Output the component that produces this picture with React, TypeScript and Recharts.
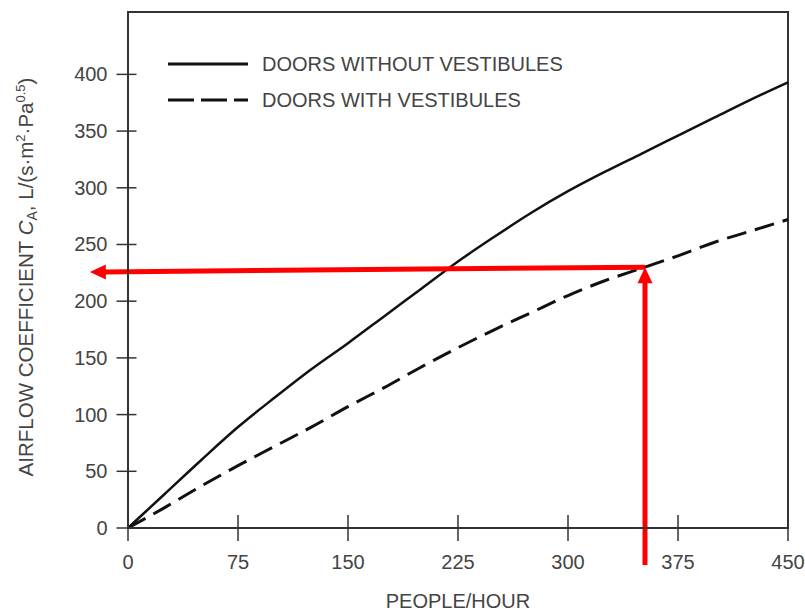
import React from 'react';
import { LineChart, Line, XAxis, YAxis, ReferenceLine, ReferenceArea, Legend } from 'recharts';

// people per hour sampled along both curves
const people = [0, 25, 50, 75, 100, 125, 150, 175, 200, 225, 250, 275, 300, 325, 350, 375, 400, 425, 450];
const withoutVestibules = [0, 30, 60, 89, 115, 140, 163, 187, 211, 235, 257, 278, 297, 314, 330, 346, 362, 378, 393];
const withVestibules = [0, 18, 37, 55, 72, 89, 107, 124, 142, 159, 175, 190, 205, 218, 229, 240, 252, 262, 272];

const xTicks = [0, 75, 150, 225, 300, 375, 450];
const yTicks = [0, 50, 100, 150, 200, 250, 300, 350, 400];
const seriesNames = ['DOORS WITHOUT VESTIBULES', 'DOORS WITH VESTIBULES'];

// red reading arrows (data units)
const readPeople = 352.5;
const readCoef = 230;
const arrowLeftPeople = -26;
const arrowLeftCoef = 225.7;
const arrowBottomCoef = -32.6;

const data = people.map((p, i) => ({
  people: p,
  without: withoutVestibules[i],
  with: withVestibules[i],
}));

const FONT = '"Liberation Sans", Arial, sans-serif';
const TEXT = '#444';
const AXIS = '#333';
const RED = '#ff0000';

const XTick = (props: any) => {
  const { x, y, payload } = props;
  return (
    <g>
      <line x1={x} x2={x} y1={y - 13} y2={y + 13} stroke={AXIS} strokeWidth={1.5} />
      <text x={x} y={y + 41} textAnchor="middle" fontSize={20} fontFamily={FONT} fill={TEXT}>
        {payload.value}
      </text>
    </g>
  );
};

const YTick = (props: any) => {
  const { x, y, payload } = props;
  return (
    <g>
      <line x1={x - 11.5} x2={x + 8.5} y1={y} y2={y} stroke={AXIS} strokeWidth={1.5} />
      <text x={x - 20.5} y={y + 7} textAnchor="end" fontSize={20} fontFamily={FONT} fill={TEXT}>
        {payload.value}
      </text>
    </g>
  );
};

const YLabel = (props: any) => {
  const { viewBox } = props;
  const cx = viewBox.x + 33;
  const cy = viewBox.y + viewBox.height / 2 + 7;
  return (
    <text
      x={cx}
      y={cy}
      transform={`rotate(-90, ${cx}, ${cy})`}
      textAnchor="middle"
      fontSize={20.5}
      fontFamily={FONT}
      fill={TEXT}
    >
      AIRFLOW COEFFICIENT <tspan fontStyle="italic">C</tspan>
      <tspan fontSize={14} dy={4}>A</tspan>
      <tspan dy={-4}>, L/(s·m</tspan>
      <tspan fontSize={13} dy={-8}>2</tspan>
      <tspan dy={8}>·Pa</tspan>
      <tspan fontSize={13} dy={-8}>0.5</tspan>
      <tspan dy={8}>)</tspan>
    </text>
  );
};

const XLabel = (props: any) => {
  const { viewBox } = props;
  return (
    <text
      x={viewBox.x + viewBox.width / 2}
      y={viewBox.y + 80}
      textAnchor="middle"
      fontSize={20}
      fontFamily={FONT}
      fill={TEXT}
    >
      PEOPLE/HOUR
    </text>
  );
};

const arrowShape = (props: any) => {
  const { x1, y1, x2, y2 } = props;
  const len = Math.hypot(x2 - x1, y2 - y1) || 1;
  const ux = (x2 - x1) / len;
  const uy = (y2 - y1) / len;
  const head = 16;
  const half = 7.5;
  const bx = x2 - ux * head;
  const by = y2 - uy * head;
  const px = -uy;
  const py = ux;
  return (
    <g>
      <line x1={x1} y1={y1} x2={bx + ux * 2} y2={by + uy * 2} stroke={RED} strokeWidth={5} />
      <polygon
        points={`${x2},${y2} ${bx + px * half},${by + py * half} ${bx - px * half},${by - py * half}`}
        fill={RED}
      />
    </g>
  );
};

const LegendBox = () => (
  <div style={{ fontFamily: FONT, fontSize: 20, color: TEXT }}>
    {seriesNames.map((name, i) => (
      <div key={name} style={{ display: 'flex', alignItems: 'center', height: 36 }}>
        <svg width={97} height={10}>
          <line
            x1={3}
            x2={83}
            y1={5}
            y2={5}
            stroke="#111"
            strokeWidth={3}
            strokeDasharray={i === 1 ? '26 7' : undefined}
          />
        </svg>
        <span style={{ whiteSpace: 'nowrap', lineHeight: '20px' }}>{name}</span>
      </div>
    ))}
  </div>
);

export default function App() {
  return (
    <div style={{ position: 'absolute', left: 0, top: 0, background: '#fff' }}>
      <LineChart width={805} height={613} data={data} margin={{ top: 12, right: 17, left: 0, bottom: 0 }}>
        <ReferenceArea x1={0} x2={450} y1={0} y2={455} fill="none" stroke={AXIS} strokeWidth={2} ifOverflow="visible" />
        <XAxis
          dataKey="people"
          type="number"
          domain={[0, 450]}
          ticks={xTicks}
          interval={0}
          height={85}
          tickSize={0}
          tickMargin={0}
          tickLine={false}
          axisLine={{ stroke: AXIS, strokeWidth: 2 }}
          tick={<XTick />}
          label={<XLabel />}
        />
        <YAxis
          type="number"
          domain={[0, 455]}
          ticks={yTicks}
          interval={0}
          width={128}
          tickSize={0}
          tickMargin={0}
          tickLine={false}
          axisLine={{ stroke: AXIS, strokeWidth: 2 }}
          tick={<YTick />}
          label={<YLabel />}
        />
        <Legend
          layout="horizontal"
          verticalAlign="middle"
          align="center"
          content={<LegendBox />}
          wrapperStyle={{ top: 46, left: 165, width: 'auto' }}
        />
        <Line
          type="monotone"
          dataKey="without"
          name={seriesNames[0]}
          stroke="#111"
          strokeWidth={2.5}
          dot={false}
          isAnimationActive={false}
        />
        <Line
          type="monotone"
          dataKey="with"
          name={seriesNames[1]}
          stroke="#111"
          strokeWidth={3}
          strokeDasharray="20 9"
          dot={false}
          isAnimationActive={false}
        />
        <ReferenceLine
          segment={[
            { x: readPeople, y: readCoef },
            { x: arrowLeftPeople, y: arrowLeftCoef },
          ]}
          ifOverflow="visible"
          shape={arrowShape}
        />
        <ReferenceLine
          segment={[
            { x: readPeople, y: arrowBottomCoef },
            { x: readPeople, y: readCoef },
          ]}
          ifOverflow="visible"
          shape={arrowShape}
        />
      </LineChart>
    </div>
  );
}
